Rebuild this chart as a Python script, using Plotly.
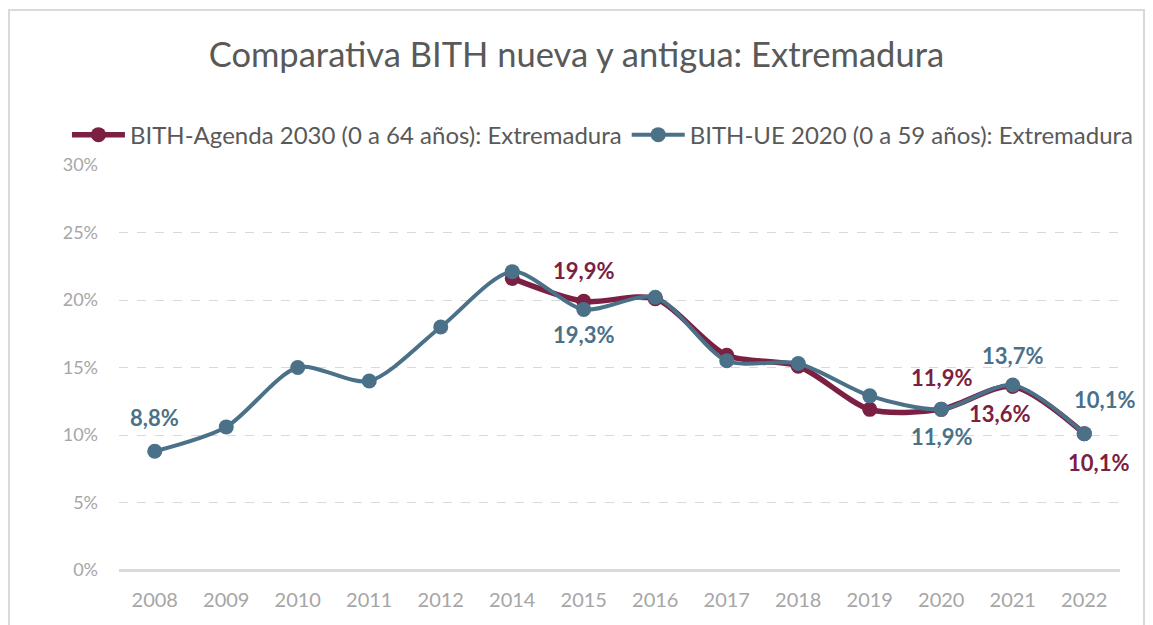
import plotly.graph_objects as go

years = ["2008", "2009", "2010", "2011", "2012", "2014", "2015", "2016",
         "2017", "2018", "2019", "2020", "2021", "2022"]
agenda2030 = [None, None, None, None, None, 21.6, 19.9, 20.1, 15.9, 15.1, 11.9, 11.9, 13.6, 10.1]
ue2020 = [8.8, 10.6, 15.0, 14.0, 18.0, 22.1, 19.3, 20.2, 15.5, 15.3, 12.9, 11.9, 13.7, 10.1]
y_ticks = [0, 5, 10, 15, 20, 25, 30]
y_tick_labels = ["0%", "5%", "10%", "15%", "20%", "25%", "30%"]

name_a = "BITH-Agenda 2030 (0 a 64 años): Extremadura"
name_b = "BITH-UE 2020 (0 a 59 años): Extremadura"
col_a = "#7B2043"
col_b = "#4B7189"

# labelled points: (year, xshift, yshift)
labels_a = [("2015", 0, 31), ("2020", 0, 32), ("2021", -13, -27), ("2022", 14, -29)]
labels_b = [("2008", 0, 34), ("2015", 0, -25), ("2020", 0, -27), ("2021", 0, 30), ("2022", 20, 34)]

FONT = "Lato, Open Sans, sans-serif"

fig = go.Figure()
fig.add_trace(go.Scatter(
    x=years, y=agenda2030, name=name_a, mode="lines+markers",
    line=dict(color=col_a, width=5.5, shape="spline", smoothing=0.8),
    marker=dict(size=15, color=col_a), connectgaps=False, hoverinfo="skip"))
fig.add_trace(go.Scatter(
    x=years, y=ue2020, name=name_b, mode="lines+markers",
    line=dict(color=col_b, width=4, shape="spline", smoothing=0.8),
    marker=dict(size=15, color=col_b), hoverinfo="skip"))

def fmt(v):
    return f"{v:.1f}".replace(".", ",") + "%"

annotations = []
for series, col, labs in ((agenda2030, col_a, labels_a), (ue2020, col_b, labels_b)):
    for yr, xs, ys in labs:
        i = years.index(yr)
        v = series[i]
        annotations.append(dict(
            x=i, y=v, xref="x", yref="y", text=f"<b>{fmt(v)}</b>", showarrow=False,
            xshift=xs, yshift=ys, font=dict(family=FONT, size=22, color=col)))

fig.update_layout(
    width=1153, height=625,
    margin=dict(l=111, r=41, t=157, b=63),
    paper_bgcolor="white", plot_bgcolor="white",
    title=dict(text="Comparativa BITH nueva y antigua: Extremadura",
               x=0.493, xanchor="center", y=0.925, yanchor="middle",
               font=dict(family=FONT, size=34.5, color="#595959")),
    legend=dict(orientation="h", x=-0.052, xanchor="left", y=1.074, yanchor="middle",
                font=dict(family=FONT, size=24, color="#595959"),
                bgcolor="rgba(0,0,0,0)", itemwidth=53, tracegroupgap=0),
    xaxis=dict(type="category", range=[-0.5, 13.5], showgrid=False, showline=False,
               zeroline=False, ticks="", ticklabelstandoff=16,
               tickfont=dict(family=FONT, size=20, color="#A6A6A6")),
    yaxis=dict(range=[0, 30], tickvals=y_ticks, ticktext=y_tick_labels,
               showgrid=True, gridcolor="#D9D9D9", griddash="dash", gridwidth=1,
               zeroline=True, zerolinecolor="#D9D9D9", zerolinewidth=3,
               showline=False, ticks="", ticklabelstandoff=20,
               tickfont=dict(family=FONT, size=18, color="#A6A6A6")),
    annotations=annotations,
    shapes=[dict(type="rect", xref="paper", yref="paper", x0=-0.1099, x1=1.024,
                 y0=-0.3, y1=1.383, line=dict(color="#D9D9D9", width=2),
                 fillcolor="rgba(0,0,0,0)", layer="below")],
    showlegend=True,
)

fig.write_html("out.html")
